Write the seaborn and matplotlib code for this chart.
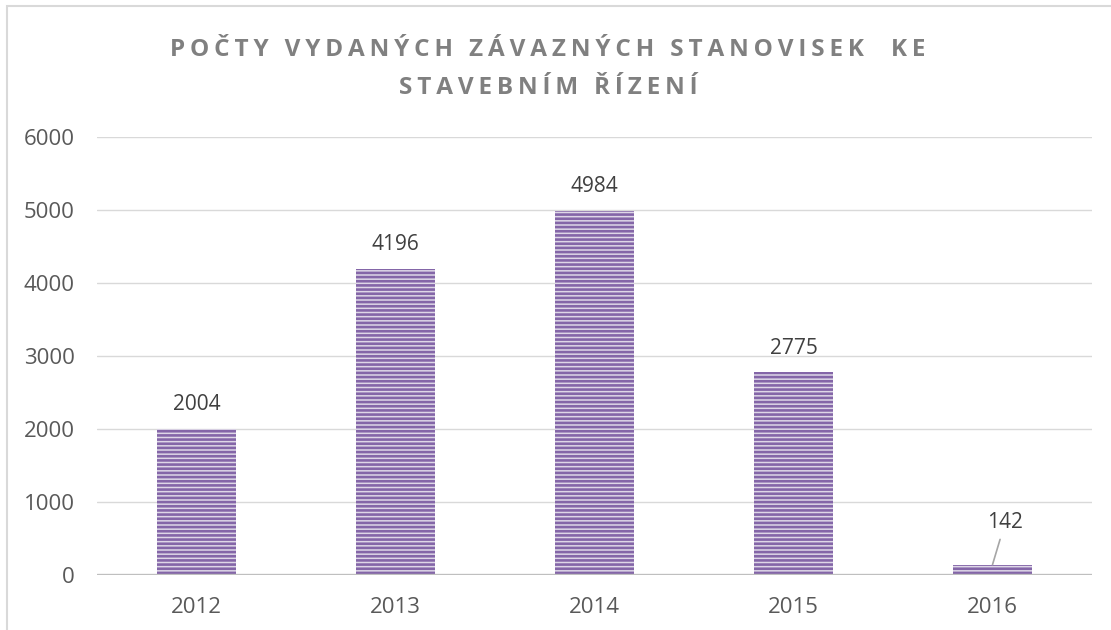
import numpy as np
import pandas as pd
import matplotlib
matplotlib.use("Agg")
import matplotlib.pyplot as plt
from matplotlib.patches import Rectangle
import seaborn as sns

years = ["2012", "2013", "2014", "2015", "2016"]
counts = [2004, 4196, 4984, 2775, 142]
yticks = [0, 1000, 2000, 3000, 4000, 5000, 6000]
title_lines = ["POČTY VYDANÝCH ZÁVAZNÝCH STANOVISEK  KE", "STAVEBNÍM ŘÍZENÍ"]

df = pd.DataFrame({"rok": years, "pocet": counts})

sns.set_style("white")
plt.rcParams['font.family'] = ['Open Sans', 'DejaVu Sans']
plt.rcParams['hatch.linewidth'] = 1.9

fig = plt.figure(figsize=(11.11, 6.3), dpi=100)
ax = fig.add_axes([97/1111, 1 - 575/630, (1092 - 97)/1111, (575 - 137)/630])

sns.barplot(data=df, x="rok", y="pocet", ax=ax, width=0.4,
            color="#ddd4ea", edgecolor="#8466a8", linewidth=0, hatch="----",
            errorbar=None)

ax.set_ylim(0, 6000)
ax.set_yticks(yticks)
ax.set_xlabel("")
ax.set_ylabel("")
ax.grid(axis="y", color="#d9d9d9", lw=1)
ax.set_axisbelow(True)
for s in ax.spines.values():
    s.set_visible(False)
ax.axhline(0, color="#bfbfbf", lw=2.4, zorder=3)
ax.tick_params(axis="y", length=0, pad=16, labelsize=16, labelcolor="#595959")
ax.tick_params(axis="x", length=0, pad=16, labelsize=16, labelcolor="#595959")

# data labels
for i, v in enumerate(counts):
    if v < 500:
        ax.annotate(str(v), xy=(i, v), xytext=(9, 30), textcoords="offset points",
                    ha="center", va="center", fontsize=15, color="#404040",
                    arrowprops=dict(arrowstyle="-", color="#a6a6a6", lw=1.2,
                                    shrinkA=2, shrinkB=0))
    else:
        ax.annotate(str(v), xy=(i, v), xytext=(0, 10), textcoords="offset points",
                    ha="center", va="bottom", fontsize=15, color="#404040")

# title with letter spacing
def spaced(s):
    return "\u2009".join(s)

fig.text(548/1111, 1 - 50/630, spaced(title_lines[0]), ha="center", va="center",
         fontsize=17.5, fontweight="bold", color="#808080")
fig.text(548/1111, 1 - 88/630, spaced(title_lines[1]), ha="center", va="center",
         fontsize=17.5, fontweight="bold", color="#808080")

# chart frame
fig.patches.append(Rectangle((7/1111, -0.1), 1.2, 1.1 - 6/630,
                             transform=fig.transFigure, fill=False,
                             edgecolor="#d9d9d9", lw=1.5))

fig.savefig("out.png", dpi=100)
